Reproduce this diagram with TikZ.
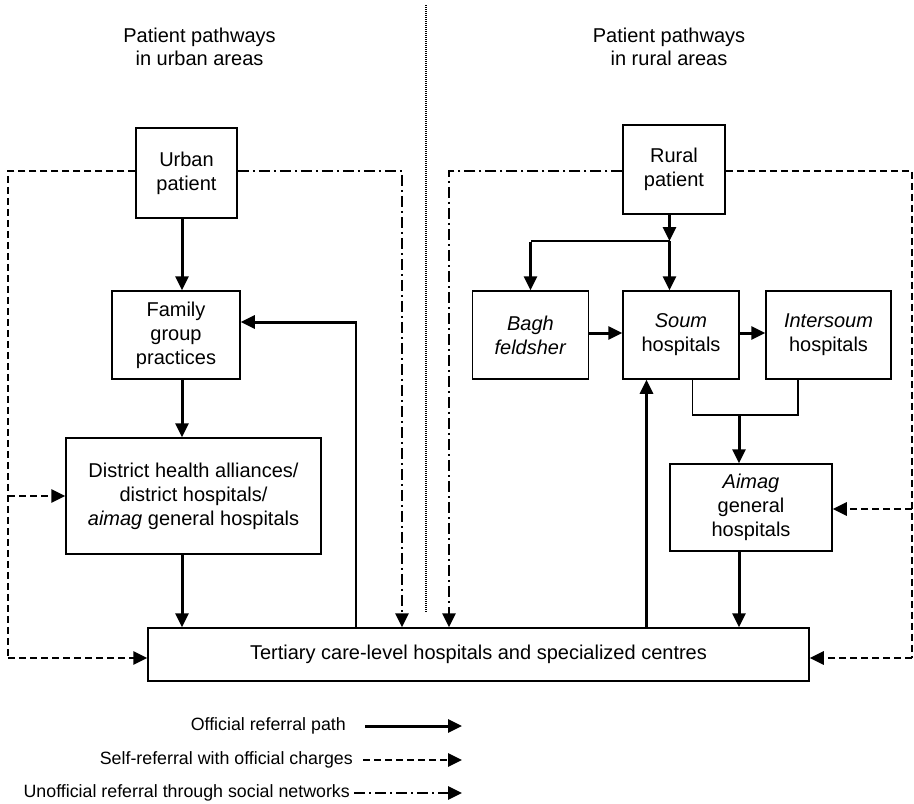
\documentclass[tikz,border=0pt]{standalone}
\usepackage{fontspec}
\setmainfont{Liberation Sans}
\usetikzlibrary{arrows.meta}
\begin{document}
\begin{tikzpicture}[x=1pt,y=-1pt,
  box/.style={draw,line width=1.5pt,align=center,inner sep=0pt,font=\fontsize{20}{24}\selectfont},
  tip/.style={-{Triangle[length=14pt,width=13pt]}},
  official/.style={line width=3pt,tip},
  selfref/.style={line width=2.8pt,dash pattern=on 7pt off 4pt},
  social/.style={line width=2.8pt,dash pattern=on 11pt off 4pt on 2pt off 4pt},
  thinline/.style={line width=1.5pt},
  ttl/.style={align=center,font=\fontsize{20}{23}\selectfont},
  leg/.style={anchor=east,font=\fontsize{17.8}{21}\selectfont,inner sep=0pt}]
\useasboundingbox (0,0) rectangle (914,804);
% titles
\node[ttl] (tl) at (199.5,47) {Patient pathways\\in urban areas};
\node[ttl] (tr) at (669,47) {Patient pathways\\in rural areas};
% separator
\coordinate (septop) at (426,5);
\coordinate (sepbot) at (426,612);
\draw[line width=1.4pt,dash pattern=on 1pt off 1pt] (septop) -- (sepbot);
% nodes
\node[box,minimum width=101pt,minimum height=90pt] (urban) at (186.5,173) {Urban\\patient};
\node[box,minimum width=128pt,minimum height=88pt] (family) at (176,335) {Family\\group\\practices};
\node[box,minimum width=255pt,minimum height=116pt] (district) at (193.5,496) {District health alliances/\\district hospitals/\\\textit{aimag} general hospitals};
\node[box,minimum width=661pt,minimum height=53pt] (tert) at (478.5,654.5) {Tertiary care-level hospitals and specialized centres};
\node[box,minimum width=102pt,minimum height=89pt] (rural) at (674,169.5) {Rural\\patient};
\node[box,minimum width=116pt,minimum height=88pt] (bagh) at (530.5,335) {\textit{Bagh}\\\textit{feldsher}};
\node[box,minimum width=116pt,minimum height=88pt] (soum) at (681,335) {\textit{Soum}\\hospitals};
\node[box,minimum width=125pt,minimum height=88pt] (inter) at (828.5,335) {\textit{Intersoum}\\hospitals};
\node[box,minimum width=162pt,minimum height=87pt] (aimag) at (751,507.5) {\textit{Aimag}\\general\\hospitals};
% urban official path
\draw[official] (urban.south -| 182,0) -- (family.north -| 182,0);
\draw[official] (family.south -| 182,0) -- (district.north -| 182,0);
\draw[official] (district.south -| 182,0) -- (tert.north -| 182,0);
\coordinate (backup) at (356,322);
\draw[thinline] (tert.north -| 356,0) -- (backup);
\draw[official] ([xshift=0.75pt]backup) -- (family.east |- backup);
% urban self-referral
\coordinate (ulc) at (8,171);
\coordinate (ulb) at (8,658);
\draw[selfref] (urban.west |- ulc) -- (ulc) -- (ulb);
\draw[selfref,tip] (ulb) -- (tert.west |- ulb);
\coordinate (ulm) at (8,496);
\draw[selfref,tip] (ulm) -- (district.west |- ulm);
% urban social
\coordinate (urc) at (402,171);
\draw[social,tip] (urban.east |- urc) -- (urc) -- (tert.north -| urc);
% rural official
\coordinate (rsplit) at (669.5,241);
\coordinate (rleft) at (530.5,241);
\draw[official] (rural.south -| rsplit) -- (rsplit);
\draw[official] (rsplit) -- (soum.north -| rsplit);
\draw[thinline] (rsplit) -- (rleft);
\draw[official] ([yshift=-0.75pt]rleft) -- (bagh.north -| rleft);
\draw[official] (bagh.east |- 0,333) -- (soum.west |- 0,333);
\draw[official] (soum.east |- 0,333) -- (inter.west |- 0,333);
\coordinate (jl) at (692.5,415);
\coordinate (jr) at (798,415);
\coordinate (jm) at (739,415);
\draw[thinline] (soum.south -| jl) -- (jl) -- (jr) -- (inter.south -| jr);
\draw[official] (jm) -- (aimag.north -| jm);
\draw[official] (aimag.south -| jm) -- (tert.north -| jm);
\draw[official] (tert.north -| 646.5,0) -- (soum.south -| 646.5,0);
% rural self-referral
\coordinate (rrc) at (912,171);
\coordinate (rrb) at (912,658);
\coordinate (rrm) at (912,509);
\draw[selfref] (rural.east |- rrc) -- (rrc) -- (rrb);
\draw[selfref,tip] (rrb) -- (tert.east |- rrb);
\draw[selfref,tip] (rrm) -- (aimag.east |- rrm);
% rural social
\coordinate (rlc) at (449,171);
\draw[social,tip] (rural.west |- rlc) -- (rlc) -- (tert.north -| rlc);
% legend
\node[leg] (l1) at (346,726) {Official referral path};
\node[leg] (l2) at (353,760) {Self-referral with official charges};
\node[leg] (l3) at (350,793) {Unofficial referral through social networks};
\coordinate (e1) at (462,726);
\coordinate (e2) at (462,760);
\coordinate (e3) at (462,793);
\draw[official] ([xshift=19pt]l1.east) -- (e1);
\draw[selfref,tip] ([xshift=10pt]l2.east) -- (e2);
\draw[social,tip] ([xshift=4pt]l3.east) -- (e3);
\end{tikzpicture}
\end{document}
